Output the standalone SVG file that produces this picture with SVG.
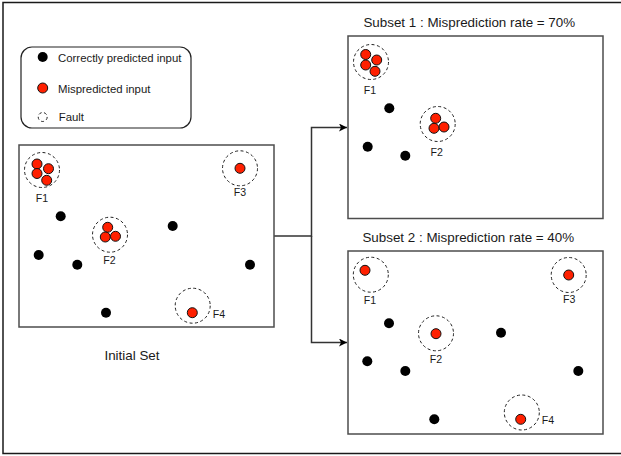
<svg xmlns="http://www.w3.org/2000/svg" width="621" height="456" viewBox="0 0 621 456">
<defs>
<style>
text{font-family:"Liberation Sans",Arial,sans-serif;fill:#1a1a1a}
.lbl{font-size:10.6px;text-anchor:middle}
.lgd{font-size:11.4px}
.title{font-size:13.4px;text-anchor:middle}
.box{fill:#fff;stroke:#4d4d4d;stroke-width:1.5}
.ok{fill:#000}
.bad{fill:#ff2000;stroke:#111;stroke-width:1}
.fault{fill:none;stroke:#222;stroke-width:1;stroke-dasharray:3 2.5}
.conn{fill:none;stroke:#333;stroke-width:1.5}
</style>
<marker id="arr" markerWidth="10" markerHeight="10" refX="8" refY="4" orient="auto" markerUnits="userSpaceOnUse">
<path d="M0,0 L8,4 L0,8 L2,4 z" fill="#000"/>
</marker>
</defs>
<rect x="0" y="0" width="621" height="456" fill="#fff"/>
<rect id="frame" x="3" y="2.5" width="630" height="451" fill="none" stroke="#1a1a1a" stroke-width="1.5"/>

<g id="legend">
<rect x="21" y="47" width="170" height="81" rx="11" fill="#fff" stroke="#222" stroke-width="1.2"/>
<circle class="ok" cx="42.7" cy="57" r="5"/>
<text class="lgd" x="58" y="61.5">Correctly predicted input</text>
<circle class="bad" cx="42.7" cy="88" r="5"/>
<text class="lgd" x="58" y="92.5">Mispredicted input</text>
<circle class="fault" cx="42.7" cy="117" r="4.5" stroke-dasharray="2.5 2"/>
<text class="lgd" x="58.7" y="121">Fault</text>
</g>

<g id="connectors">
<path class="conn" d="M274,236 H311.5 V127.5 H347" marker-end="url(#arr)"/>
<path class="conn" d="M311.5,236 V342.5 H347" marker-end="url(#arr)"/>
</g>

<g id="initial-set">
<rect class="box" x="19" y="145" width="255" height="182"/>
<circle class="fault" cx="42" cy="170" r="17.5"/>
<circle class="bad" cx="37" cy="164" r="5"/>
<circle class="bad" cx="48.5" cy="168.7" r="5"/>
<circle class="bad" cx="37" cy="173.5" r="5"/>
<circle class="bad" cx="46.7" cy="180.3" r="5"/>
<text class="lbl" x="42" y="201.5">F1</text>
<circle class="fault" cx="240" cy="168.3" r="17.5"/>
<circle class="bad" cx="240" cy="168.3" r="5"/>
<text class="lbl" x="240" y="196">F3</text>
<circle class="fault" cx="110" cy="234.7" r="17.5"/>
<circle class="bad" cx="107.7" cy="227.3" r="5"/>
<circle class="bad" cx="105.3" cy="237" r="5"/>
<circle class="bad" cx="115.5" cy="236.3" r="5"/>
<text class="lbl" x="109.5" y="264">F2</text>
<circle class="fault" cx="192.7" cy="305.7" r="17.5"/>
<circle class="bad" cx="192.3" cy="312.7" r="5"/>
<text class="lbl" x="219" y="318">F4</text>
<circle class="ok" cx="60.7" cy="216.3" r="5"/>
<circle class="ok" cx="172.7" cy="226" r="5"/>
<circle class="ok" cx="38.7" cy="255" r="5"/>
<circle class="ok" cx="77.3" cy="264.7" r="5"/>
<circle class="ok" cx="250" cy="264.7" r="5"/>
<circle class="ok" cx="106" cy="312.7" r="5"/>
<text class="title" x="132" y="360">Initial Set</text>
</g>

<g id="subset-1">
<text class="title" x="469.3" y="27">Subset 1 : Misprediction rate = 70%</text>
<rect class="box" x="348" y="36" width="255" height="182.5"/>
<circle class="fault" cx="371" cy="62" r="17.5"/>
<circle class="bad" cx="365.7" cy="54.5" r="5"/>
<circle class="bad" cx="376.7" cy="60" r="5"/>
<circle class="bad" cx="365.7" cy="65" r="5"/>
<circle class="bad" cx="375" cy="71.3" r="5"/>
<text class="lbl" x="370" y="94">F1</text>
<circle class="fault" cx="437.7" cy="124" r="17.5"/>
<circle class="bad" cx="435.7" cy="118.3" r="5"/>
<circle class="bad" cx="434" cy="128.3" r="5"/>
<circle class="bad" cx="444" cy="127" r="5"/>
<text class="lbl" x="436.7" y="155.5">F2</text>
<circle class="ok" cx="389.3" cy="108.3" r="5"/>
<circle class="ok" cx="367.7" cy="146.7" r="5"/>
<circle class="ok" cx="405.3" cy="155.7" r="5"/>
</g>

<g id="subset-2">
<text class="title" x="468.3" y="241.5">Subset 2 : Misprediction rate = 40%</text>
<rect class="box" x="348" y="251" width="255" height="183"/>
<circle class="fault" cx="370.8" cy="274.7" r="17.5"/>
<circle class="bad" cx="365" cy="270.3" r="5"/>
<text class="lbl" x="370" y="304">F1</text>
<circle class="fault" cx="568.7" cy="275" r="17.5"/>
<circle class="bad" cx="568.7" cy="275" r="5"/>
<text class="lbl" x="569.3" y="303">F3</text>
<circle class="fault" cx="436" cy="333.3" r="17.5"/>
<circle class="bad" cx="436" cy="333.7" r="5"/>
<text class="lbl" x="436" y="363">F2</text>
<circle class="fault" cx="521.8" cy="412.5" r="17.5"/>
<circle class="bad" cx="520.7" cy="419.3" r="5"/>
<text class="lbl" x="548" y="424">F4</text>
<circle class="ok" cx="389" cy="323.3" r="5"/>
<circle class="ok" cx="501" cy="332.7" r="5"/>
<circle class="ok" cx="367.3" cy="361.3" r="5"/>
<circle class="ok" cx="405.3" cy="371" r="5"/>
<circle class="ok" cx="578.3" cy="371" r="5"/>
<circle class="ok" cx="434.3" cy="419.3" r="5"/>
</g>
</svg>
